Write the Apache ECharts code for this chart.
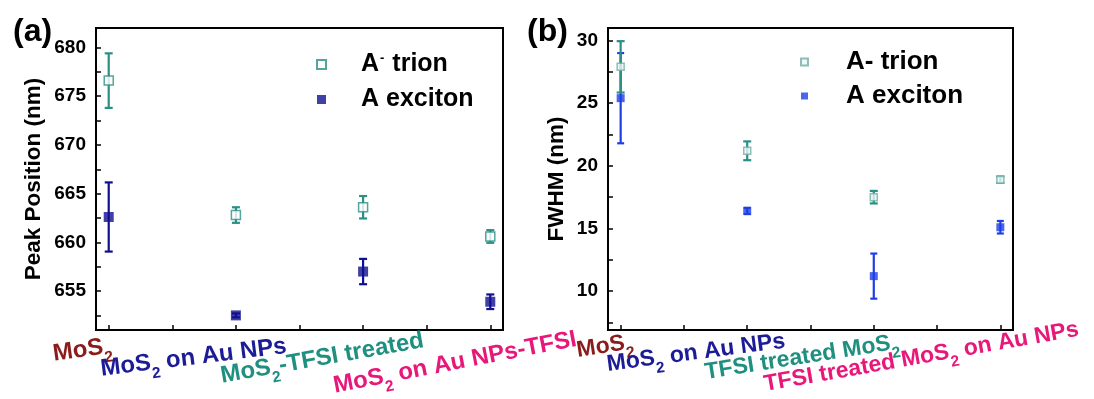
<!DOCTYPE html>
<html><head><meta charset="utf-8">
<script src="https://cdn.jsdelivr.net/npm/echarts@6/dist/echarts.min.js"></script>
<style>html,body{margin:0;padding:0;background:#fff}#c{width:1094px;height:399px}</style>
</head><body><div id="c"></div>
<script>
// ---------------- data ----------------
const xPositions = [1, 2, 3, 4];
const categoriesA = ['MoS_2', 'MoS_2 on Au NPs', 'MoS_2-TFSI treated', 'MoS_2 on Au NPs-TFSI'];
const categoriesB = ['MoS_2', 'MoS_2 on Au NPs', 'TFSI treated MoS_2', 'TFSI treated MoS_2 on Au NPs'];
const trionPeak = [676.6, 662.8, 663.6, 660.6];
const trionPeakErr = [2.8, 0.8, 1.15, 0.65];
const excitonPeak = [662.6, 652.5, 657.0, 653.9];
const excitonPeakErr = [3.55, 0.2, 1.3, 0.75];
const trionFwhm = [27.9, 21.2, 17.5, 18.9];
const trionFwhmErr = [2.05, 0.75, 0.5, 0.25];
const excitonFwhm = [25.4, 16.4, 11.2, 15.1];
const excitonFwhmErr = [3.6, 0.25, 1.8, 0.5];
const xTickValues = [1, 1.5, 2, 2.5, 3, 3.5, 4];
const yTicksA = [652.5, 655, 657.5, 660, 662.5, 665, 667.5, 670, 672.5, 675, 677.5, 680];
const yLabelsA = [655, 660, 665, 670, 675, 680];
const yTicksB = [7.5, 10, 12.5, 15, 17.5, 20, 22.5, 25, 27.5, 30];
const yLabelsB = [10, 15, 20, 25, 30];
const yTitleA = 'Peak Position (nm)';
const yTitleB = 'FWHM (nm)';
const panelTitles = ['(a)', '(b)'];
const seriesNames = ['trion-a', 'exciton-a', 'trion-b', 'exciton-b'];
const legendTexts = {
  'trion-a': ['A', '-', ' trion'],
  'exciton-a': ['A', '', ' exciton'],
  'trion-b': ['A', '', '- trion'],
  'exciton-b': ['A', '', ' exciton']
};

// ---------------- styles ----------------
const FONT = '"Liberation Sans", Arial, Helvetica, sans-serif';
const TEAL = '#2b8f86';
const TEAL_LIGHT = '#6fb0a4';
const NAVY = '#10108f';
const BLUE = '#1f3fe6';
const catColors = ['#8b1c1c', '#1c1c96', '#1f8f80', '#e8177a'];
const labelLayoutA = [
  {dx: -53, dy: 43, rot: 8}, {dx: -133, dy: 58, rot: 7}, {dx: -139, dy: 65, rot: 10}, {dx: -153, dy: 75, rot: 11}
];
const labelLayoutB = [
  {dx: -41, dy: 39, rot: 9}, {dx: -138, dy: 53, rot: 7.5}, {dx: -166, dy: 61, rot: 9}, {dx: -233, dy: 73, rot: 10}
];

function errData(vals, errs) {
  return vals.map((v, i) => [xPositions[i], v - errs[i], v + errs[i]]);
}
function ptData(vals) {
  return vals.map((v, i) => [xPositions[i], v]);
}
function errRender(color, cap, lw) {
  return function (params, api) {
    const x = api.value(0), lo = api.value(1), hi = api.value(2);
    const p1 = api.coord([x, hi]), p2 = api.coord([x, lo]);
    const h = cap / 2;
    const st = {stroke: color, lineWidth: lw};
    return {type: 'group', children: [
      {type: 'line', shape: {x1: p1[0], y1: p1[1], x2: p2[0], y2: p2[1]}, style: st},
      {type: 'line', shape: {x1: p1[0] - h, y1: p1[1], x2: p1[0] + h, y2: p1[1]}, style: st},
      {type: 'line', shape: {x1: p2[0] - h, y1: p2[1], x2: p2[0] + h, y2: p2[1]}, style: st}
    ]};
  };
}
function xAxisCfg(gi) {
  return {
    gridIndex: gi, type: 'value', min: 0.9, max: 4.1,
    axisLine: {show: true, onZero: false, lineStyle: {color: '#000', width: 2}},
    axisTick: {show: true, inside: true, length: 5, customValues: xTickValues, lineStyle: {color: '#000', width: 1.5}},
    axisLabel: {show: false},
    splitLine: {show: false}
  };
}
function yAxisCfg(gi, min, max, ticks, labels, name, gap) {
  return {
    gridIndex: gi, type: 'value', min: min, max: max,
    name: name, nameLocation: 'middle', nameGap: gap,
    nameTextStyle: {fontSize: 22.5, fontWeight: 'bold', fontFamily: FONT, color: '#000'},
    axisLine: {show: true, onZero: false, lineStyle: {color: '#000', width: 2}},
    axisTick: {show: true, inside: true, length: 5, customValues: ticks, lineStyle: {color: '#000', width: 1.5}},
    axisLabel: {show: true, customValues: labels, margin: 10, fontSize: 19, fontWeight: 'bold', fontFamily: FONT, color: '#000'},
    splitLine: {show: false}
  };
}
function legendFormatter() {
  return function (name) {
    const t = legendTexts[name];
    let s = '{p|' + t[0] + '}';
    if (t[1]) s += '{sup|' + t[1] + '}';
    s += '{t|' + t[2] + '}';
    return s;
  };
}
function legendRich(size, pad) {
  return {
    p: {fontSize: size, fontWeight: 'bold', fontFamily: FONT, color: '#000', padding: [0, 0, 0, pad]},
    sup: {fontSize: 13, fontWeight: 'bold', fontFamily: FONT, color: '#000', verticalAlign: 'top', padding: [0, 1, 0, 1]},
    t: {fontSize: size, fontWeight: 'bold', fontFamily: FONT, color: '#000'}
  };
}

const chart = echarts.init(document.getElementById('c'), null, {renderer: 'canvas'});
const option = {
  animation: false,
  backgroundColor: '#fff',
  grid: [
    {left: 96, top: 28, width: 407, height: 302, show: true, borderColor: '#000', borderWidth: 2},
    {left: 608, top: 28, width: 405, height: 302, show: true, borderColor: '#000', borderWidth: 2}
  ],
  xAxis: [xAxisCfg(0), xAxisCfg(1)],
  yAxis: [
    yAxisCfg(0, 651, 682, yTicksA, yLabelsA, yTitleA, 51),
    yAxisCfg(1, 6.9, 31, yTicksB, yLabelsB, yTitleB, 40)
  ],
  legend: [
    {data: [seriesNames[0], seriesNames[1]], orient: 'vertical', left: 316, top: 52, padding: 0,
     itemWidth: 9, itemHeight: 9, itemGap: 10, formatter: legendFormatter(),
     textStyle: {fontSize: 25, fontWeight: 'bold', fontFamily: FONT, color: '#000', rich: legendRich(25, 30)}},
    {data: [seriesNames[2], seriesNames[3]], orient: 'vertical', left: 800, top: 49, padding: 0,
     itemWidth: 7, itemHeight: 7, itemGap: 8, formatter: legendFormatter(),
     textStyle: {fontSize: 26, fontWeight: 'bold', fontFamily: FONT, color: '#000', rich: legendRich(26, 33)}}
  ],
  series: [
    {type: 'custom', name: 'err-exciton-a', xAxisIndex: 0, yAxisIndex: 0, z: 2, encode: {x: 0, y: [1, 2]},
     renderItem: errRender(NAVY, 8, 2.2), data: errData(excitonPeak, excitonPeakErr)},
    {type: 'custom', name: 'err-trion-a', xAxisIndex: 0, yAxisIndex: 0, z: 2, encode: {x: 0, y: [1, 2]},
     renderItem: errRender(TEAL, 8, 2.2), data: errData(trionPeak, trionPeakErr)},
    {type: 'custom', name: 'err-exciton-b', xAxisIndex: 1, yAxisIndex: 1, z: 2, encode: {x: 0, y: [1, 2]},
     renderItem: errRender(BLUE, 7, 2.2), data: errData(excitonFwhm, excitonFwhmErr)},
    {type: 'custom', name: 'err-trion-b', xAxisIndex: 1, yAxisIndex: 1, z: 2, encode: {x: 0, y: [1, 2]},
     renderItem: errRender(TEAL, 8, 2.2), data: errData(trionFwhm, trionFwhmErr)},
    {type: 'scatter', name: seriesNames[0], xAxisIndex: 0, yAxisIndex: 0, z: 3, symbol: 'rect', symbolSize: 9,
     itemStyle: {color: '#fff', borderColor: TEAL, borderWidth: 1.5}, data: ptData(trionPeak)},
    {type: 'scatter', name: seriesNames[1], xAxisIndex: 0, yAxisIndex: 0, z: 3, symbol: 'rect', symbolSize: 10,
     itemStyle: {color: NAVY}, data: ptData(excitonPeak)},
    {type: 'scatter', name: seriesNames[2], xAxisIndex: 1, yAxisIndex: 1, z: 3, symbol: 'rect', symbolSize: 7,
     itemStyle: {color: '#eef4f8', borderColor: TEAL_LIGHT, borderWidth: 1.5}, data: ptData(trionFwhm)},
    {type: 'scatter', name: seriesNames[3], xAxisIndex: 1, yAxisIndex: 1, z: 3, symbol: 'rect', symbolSize: 8,
     itemStyle: {color: BLUE}, data: ptData(excitonFwhm)}
  ]
};
chart.setOption(option);

// ---------- category labels and panel titles (positioned from axis coordinates) ----------
function richLabel(label) {
  const parts = label.split('_2');
  let s = '';
  parts.forEach((p, k) => {
    if (p) s += '{m|' + p + '}';
    if (k < parts.length - 1) s += '{s|2}';
  });
  return s;
}
function buildLabels(gi, cats, layout, ymin, size) {
  return cats.map((c, i) => {
    const px = chart.convertToPixel({gridIndex: gi}, [xPositions[i], ymin]);
    const L = layout[i];
    const col = catColors[i];
    return {
      type: 'text', x: px[0] + L.dx, y: px[1] + L.dy, rotation: L.rot * Math.PI / 180, z: 10,
      style: {
        text: richLabel(c), align: 'left', verticalAlign: 'bottom',
        rich: {
          m: {fontSize: size, fontWeight: 'bold', fontFamily: FONT, fill: col, padding: [0, 0, 7, 0], verticalAlign: 'bottom'},
          s: {fontSize: 15.5, fontWeight: 'bold', fontFamily: FONT, fill: col, verticalAlign: 'bottom'}
        }
      }
    };
  });
}
const gA = chart.convertToPixel({gridIndex: 0}, [0.9, 682]);
const gB = chart.convertToPixel({gridIndex: 1}, [0.9, 31]);
const graphics = []
  .concat(buildLabels(0, categoriesA, labelLayoutA, 651, 24))
  .concat(buildLabels(1, categoriesB, labelLayoutB, 6.9, 23))
  .concat([
    {type: 'text', x: gA[0] - 83, y: gA[1] + 4, z: 10,
     style: {text: panelTitles[0], font: 'bold 32px ' + FONT, fill: '#000', align: 'left', verticalAlign: 'middle'}},
    {type: 'text', x: gB[0] - 81, y: gB[1] + 4, z: 10,
     style: {text: panelTitles[1], font: 'bold 32px ' + FONT, fill: '#000', align: 'left', verticalAlign: 'middle'}}
  ]);
chart.setOption({graphic: graphics});
</script>
</body></html>
